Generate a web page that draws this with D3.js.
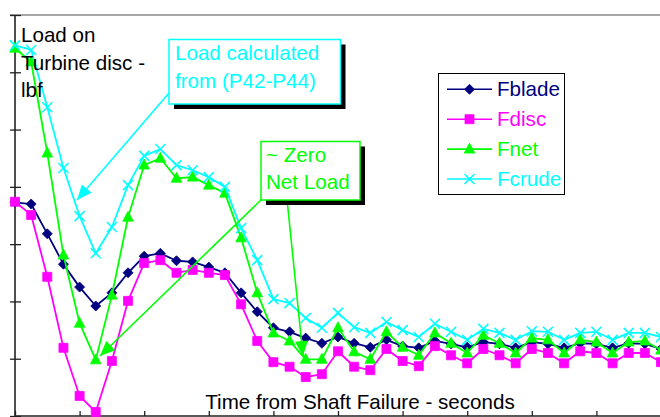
<!DOCTYPE html>
<html>
<head>
<meta charset="utf-8">
<script src="https://cdn.jsdelivr.net/npm/d3@7"></script>
<style>
  html, body { margin: 0; padding: 0; background: #fff; }
  svg { display: block; }
  text { font-family: "Liberation Sans", Arial, sans-serif; }
</style>
</head>
<body>
<svg id="chart" width="660" height="417"></svg>
<script>
// ---- data ----
const times = [0,0.25,0.5,0.75,1,1.25,1.5,1.75,2,2.25,2.5,2.75,3,3.25,3.5,3.75,4,4.25,4.5,4.75,5,
               5.25,5.5,5.75,6,6.25,6.5,6.75,7,7.25,7.5,7.75,8,8.25,8.5,8.75,9,9.25,9.5,9.75,10];
const fblade = [3.73,3.70,3.18,2.65,2.25,1.92,2.15,2.50,2.79,2.84,2.71,2.69,2.60,2.50,2.15,1.82,1.54,1.47,1.36,1.27,1.38,
                1.27,1.20,1.33,1.22,1.19,1.31,1.26,1.20,1.29,1.26,1.19,1.29,1.26,1.19,1.27,1.26,1.19,1.27,1.26,1.17];
const fdisc  = [3.74,3.51,2.43,1.19,0.35,0.07,0.96,2.01,2.67,2.72,2.50,2.55,2.50,2.46,1.95,1.31,0.94,0.86,0.68,0.73,1.13,
                0.86,0.80,1.17,0.96,0.87,1.22,1.06,0.92,1.17,1.06,0.92,1.17,1.10,0.92,1.13,1.10,0.92,1.10,1.10,0.94];
const fnet   = [6.42,6.18,4.59,2.81,1.62,0.98,2.11,3.47,4.38,4.50,4.15,4.17,4.03,3.89,3.11,2.15,1.45,1.31,0.99,0.99,1.54,
                1.12,0.99,1.47,1.20,1.06,1.45,1.27,1.10,1.41,1.27,1.10,1.36,1.33,1.10,1.33,1.29,1.10,1.29,1.31,1.15];
const fcrude = [6.47,6.39,5.39,4.33,3.49,2.84,3.30,4.03,4.54,4.66,4.38,4.29,4.17,4.00,3.28,2.72,2.04,1.97,1.71,1.54,1.80,
                1.55,1.45,1.64,1.50,1.38,1.61,1.47,1.33,1.52,1.45,1.33,1.48,1.47,1.33,1.45,1.47,1.33,1.45,1.45,1.38];
const seriesNames = ["Fblade","Fdisc","Fnet","Fcrude"];
const seriesColors = ["#000080","#ff00ff","#00ff00","#00ffff"];
const seriesMarkers = ["diamond","square","triangle","cross"];
const yTicks = [0,1,2,3,4,5,6,7];
const xTicks = [0,1,2,3,4,5,6,7,8,9];
const yTitle = ["Load on","Turbine disc -","lbf"];
const xTitle = "Time from Shaft Failure - seconds";
const note1 = ["Load calculated","from (P42-P44)"];
const note2 = ["~ Zero","Net Load"];

// ---- layout ----
const svg = d3.select("#chart");
const x = d3.scaleLinear().domain([0, 10]).range([15, 661]);
const y = d3.scaleLinear().domain([0, 7]).range([416, 15]);
const FS = 20.6;

// plot top border
svg.append("line").attr("x1", 10).attr("x2", 660).attr("y1", 15).attr("y2", 15)
  .attr("stroke", "#888").attr("stroke-width", 1.5);

// y axis
const yAxis = svg.append("g").attr("transform", "translate(15,0)")
  .call(d3.axisLeft(y).tickValues(yTicks).tickSize(5).tickFormat(""));
yAxis.selectAll(".tick line").attr("x2", 6).attr("x1", -5).attr("stroke", "#222").attr("stroke-width", 1.3);
yAxis.select(".domain").attr("stroke", "#222").attr("stroke-width", 1.6).attr("d", `M0,${y(7)}V${y(0)}`);

// x axis
const xAxis = svg.append("g").attr("transform", "translate(0,416)")
  .call(d3.axisBottom(x).tickValues(xTicks).tickSize(-5).tickFormat(""));
xAxis.selectAll(".tick line").attr("stroke", "#222").attr("stroke-width", 1.3);
xAxis.select(".domain").attr("stroke", "#222").attr("stroke-width", 1.6).attr("d", `M${x(0)},0H660`);

// markers
function markerPath(type, cx, cy) {
  if (type === "diamond") return `M${cx},${cy-5}L${cx+5},${cy}L${cx},${cy+5}L${cx-5},${cy}Z`;
  if (type === "square") return `M${cx-4.5},${cy-4.5}h9v9h-9Z`;
  if (type === "triangle") return `M${cx},${cy-6}L${cx+5.3},${cy+4}L${cx-5.3},${cy+4}Z`;
  return `M${cx-5},${cy-5}L${cx+5},${cy+5}M${cx-5},${cy+5}L${cx+5},${cy-5}`;
}

const allSeries = [fblade, fdisc, fnet, fcrude];
const line = d3.line().x((d, i) => x(times[i])).y(d => y(d));
allSeries.forEach((vals, k) => {
  const g = svg.append("g");
  const c = seriesColors[k];
  g.append("path").attr("d", line(vals)).attr("fill", "none")
    .attr("stroke", c).attr("stroke-width", 1.8).attr("stroke-linejoin", "round");
  g.selectAll("path.m").data(vals).join("path").attr("class", "m")
    .attr("d", (d, i) => markerPath(seriesMarkers[k], x(times[i]), y(d)))
    .attr("fill", seriesMarkers[k] === "cross" ? "none" : c)
    .attr("stroke", c).attr("stroke-width", seriesMarkers[k] === "cross" ? 1.6 : 0.8);
});

// y title
svg.append("text").attr("x", 21).attr("font-size", FS).attr("fill", "#000")
  .selectAll("tspan").data(yTitle).join("tspan")
  .attr("x", 21).attr("y", (d, i) => 42 + i * 27.7).text(d => d);

// x title
svg.append("text").attr("x", 360).attr("y", 409).attr("text-anchor", "middle")
  .attr("font-size", FS).attr("fill", "#000").text(xTitle);

// legend
const lg = svg.append("g");
lg.append("rect").attr("x", 438.5).attr("y", 73.5).attr("width", 126).attr("height", 121)
  .attr("fill", "#fff").attr("stroke", "#000").attr("stroke-width", 1);
seriesNames.forEach((n, k) => {
  const ly = 89.3 + k * 29.9;
  lg.append("line").attr("x1", 447).attr("x2", 492).attr("y1", ly).attr("y2", ly)
    .attr("stroke", seriesColors[k]).attr("stroke-width", 1.6);
  lg.append("path").attr("d", markerPath(seriesMarkers[k], 469.5, ly))
    .attr("fill", seriesMarkers[k] === "cross" ? "none" : seriesColors[k])
    .attr("stroke", seriesColors[k]).attr("stroke-width", seriesMarkers[k] === "cross" ? 1.6 : 0.8);
  lg.append("text").attr("x", 497).attr("y", ly + 6.5).attr("font-size", FS)
    .attr("fill", seriesColors[k]).text(n);
});

// annotations
function arrow(x1, y1, x2, y2, color) {
  svg.append("line").attr("x1", x1).attr("y1", y1).attr("x2", x2).attr("y2", y2)
    .attr("stroke", color).attr("stroke-width", 1.6);
  const a = Math.atan2(y2 - y1, x2 - x1);
  const L = 15, W = 6.5;
  const bx = x2 - L * Math.cos(a), by = y2 - L * Math.sin(a);
  const px = -Math.sin(a) * W, py = Math.cos(a) * W;
  svg.append("path").attr("d", `M${x2},${y2}L${bx + px},${by + py}L${bx - px},${by - py}Z`)
    .attr("fill", color);
}
function noteBox(x0, y0, w, h, color, lines, tx, ty, lh) {
  svg.append("rect").attr("x", x0 + 5).attr("y", y0 + 5).attr("width", w).attr("height", h).attr("fill", "#000");
  svg.append("rect").attr("x", x0).attr("y", y0).attr("width", w).attr("height", h)
    .attr("fill", "#fff").attr("stroke", color).attr("stroke-width", 1.5);
  svg.append("text").attr("font-size", FS).attr("fill", color)
    .selectAll("tspan").data(lines).join("tspan")
    .attr("x", tx).attr("y", (d, i) => ty + i * lh).text(d => d);
}

arrow(169, 93, 77, 200, "#00ffff");
noteBox(169, 39.5, 171.5, 64.5, "#00ffff", note1, 175, 60, 27.5);

arrow(262, 199, 100, 356, "#00ff00");
arrow(287, 199, 303, 356, "#00ff00");
noteBox(261, 141.5, 99, 58.5, "#00ff00", note2, 266, 161.5, 27.7);
</script>
</body>
</html>
